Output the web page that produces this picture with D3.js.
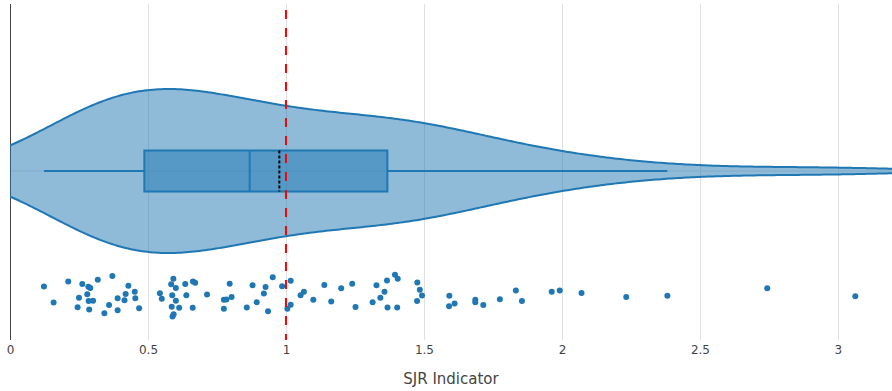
<!DOCTYPE html>
<html>
<head>
<meta charset="utf-8">
<script src="https://cdn.jsdelivr.net/npm/d3@7"></script>
<style>
  html, body { margin: 0; padding: 0; background: #fff; }
  svg { display: block; }
  text { font-family: "DejaVu Sans", Verdana, sans-serif; fill: #444; }
</style>
</head>
<body>
<svg id="chart" width="892" height="391"></svg>
<script>
// SJR indicator of each journal
const sjrValues = [
  0.123, 0.158, 0.211, 0.262, 0.284, 0.291, 0.280, 0.250, 0.285, 0.301,
  0.245, 0.287, 0.318, 0.371, 0.342, 0.359, 0.390, 0.390, 0.415, 0.419,
  0.429, 0.452, 0.454, 0.468, 0.543, 0.550, 0.592, 0.584, 0.601, 0.588,
  0.601, 0.586, 0.613, 0.589, 0.593, 0.635, 0.663, 0.671, 0.639, 0.662,
  0.714, 0.775, 0.784, 0.796, 0.803, 0.775, 0.858, 0.879, 0.894, 0.926,
  0.920, 0.935, 0.952, 0.986, 1.017, 1.005, 1.017, 1.053, 1.065, 1.099,
  1.139, 1.164, 1.200, 1.240, 1.252, 1.314, 1.328, 1.342, 1.357, 1.366,
  1.368, 1.395, 1.405, 1.403, 1.476, 1.485, 1.493, 1.475, 1.592, 1.591,
  1.611, 1.686, 1.686, 1.715, 1.775, 1.833, 1.855, 1.963, 1.992, 2.071,
  2.233, 2.382, 2.744, 3.063
];
// jitter of each point inside its strip, from -1 to 1
const pointJitter = [
   0.44, -0.33,  0.67,  0.56,  0.42,  0.37,  0.07, -0.10, -0.25, -0.24,
  -0.55, -0.66,  0.76,  0.93, -0.84, -0.45, -0.12, -0.70, -0.22,  0.08,
   0.47,  0.19, -0.12, -0.60,  0.11, -0.15,  0.80,  0.54,  0.36,  0.02,
  -0.24, -0.53, -0.58, -0.99, -0.89,  0.55,  0.67,  0.62,  0.02, -0.58,
   0.05, -0.19, -0.18,  0.57, -0.07, -0.63, -0.57,  0.50, -0.31,  0.41,
   0.10, -0.74,  0.88,  0.45,  0.71, -0.62, -0.43,  0.02,  0.19, -0.19,
   0.51, -0.28,  0.35,  0.57, -0.54, -0.31,  0.49, -0.10,  0.18,  0.72,
  -0.57,  0.99,  0.81, -0.57,  0.63,  0.28,  0.01, -0.25,  0.00, -0.50,
  -0.38, -0.19, -0.31, -0.44, -0.17,  0.24, -0.26,  0.18,  0.24,  0.13,
  -0.06,  0.00,  0.35, -0.03
];
const tickValues = [0, 0.5, 1, 1.5, 2, 2.5, 3];
const tickLabels = ["0", "0.5", "1", "1.5", "2", "2.5", "3"];
const xDomain = [0, 3.196];
const referenceValue = [1];
const axisTitle = "SJR Indicator";

// layout
const plot = { left: 10, right: 892, top: 4, bottom: 340 };
const blue = "#1f77b4";
const pointPos = -1.52;    // strip position, in violin half-widths
const jitterAmp = 0.256;   // jitter amplitude, in violin half-widths
const boxHalf = 0.25;      // box half-height, in violin half-widths

const svg = d3.select("#chart");
const x = d3.scaleLinear().domain(xDomain).range([plot.left, plot.right]);
// vertical scale in units of the violin half-width, 0 at the category
const y = d3.scaleLinear().domain([-2.061, 2.037]).range([plot.bottom, plot.top]);

svg.append("defs").append("clipPath").attr("id", "plotclip")
  .append("rect")
  .attr("x", plot.left).attr("y", plot.top)
  .attr("width", plot.right - plot.left).attr("height", plot.bottom - plot.top);

// grid
const grid = svg.append("g");
grid.selectAll("line.gx").data(tickValues.filter(t => t !== 0)).join("line")
  .attr("class", "gx")
  .attr("x1", d => Math.round(x(d)) + 0.5).attr("x2", d => Math.round(x(d)) + 0.5)
  .attr("y1", plot.top).attr("y2", plot.bottom)
  .attr("stroke", "#e0e0e0").attr("stroke-width", 1);
grid.append("line")
  .attr("x1", plot.left).attr("x2", plot.right)
  .attr("y1", y(0)).attr("y2", y(0))
  .attr("stroke", "#e0e0e0").attr("stroke-width", 1);
// zero line
grid.append("line")
  .attr("x1", Math.round(x(0)) + 0.5).attr("x2", Math.round(x(0)) + 0.5)
  .attr("y1", plot.top).attr("y2", plot.bottom)
  .attr("stroke", "#444").attr("stroke-width", 1);

// statistics
const sorted = sjrValues.slice().sort(d3.ascending);
const n = sorted.length;
const q1 = d3.quantileSorted(sorted, 0.25);
const med = d3.quantileSorted(sorted, 0.5);
const q3 = d3.quantileSorted(sorted, 0.75);
const mean = d3.mean(sorted);
const iqr = q3 - q1;
const lowFence = d3.min(sorted.filter(v => v >= q1 - 1.5 * iqr));
const highFence = d3.max(sorted.filter(v => v <= q3 + 1.5 * iqr));

// kernel density (gaussian, Silverman bandwidth)
const sd = d3.deviation(sorted);
const bw = 1.059 * Math.min(sd, iqr / 1.349) * Math.pow(n, -0.2);
const span = [sorted[0] - 2 * bw, sorted[n - 1] + 2 * bw];
const kern = u => Math.exp(-0.5 * u * u) / Math.sqrt(2 * Math.PI);
const density = d3.range(0, 401).map(i => {
  const v = span[0] + (span[1] - span[0]) * i / 400;
  return [v, d3.sum(sorted, s => kern((v - s) / bw)) / (n * bw)];
});
const w = d3.scaleLinear().domain([0, d3.max(density, d => d[1])]).range([0, 1]);

const traces = svg.append("g").attr("clip-path", "url(#plotclip)");
const area = d3.area()
  .x(d => x(d[0]))
  .y0(d => y(-w(d[1])))
  .y1(d => y(w(d[1])))
  .curve(d3.curveLinear);
traces.append("path").datum(density)
  .attr("d", area)
  .attr("fill", blue).attr("fill-opacity", 0.5)
  .attr("stroke", blue).attr("stroke-width", 2).attr("stroke-linejoin", "round");

// whiskers
traces.selectAll("line.whisker").data([[lowFence, q1], [q3, highFence]]).join("line")
  .attr("class", "whisker")
  .attr("x1", d => x(d[0])).attr("x2", d => x(d[1]))
  .attr("y1", y(0)).attr("y2", y(0))
  .attr("stroke", blue).attr("stroke-width", 2);
// box
traces.append("rect")
  .attr("x", x(q1)).attr("width", x(q3) - x(q1))
  .attr("y", y(boxHalf)).attr("height", y(-boxHalf) - y(boxHalf))
  .attr("fill", blue).attr("fill-opacity", 0.5)
  .attr("stroke", blue).attr("stroke-width", 2);
traces.append("line")
  .attr("x1", x(med)).attr("x2", x(med))
  .attr("y1", y(boxHalf)).attr("y2", y(-boxHalf))
  .attr("stroke", blue).attr("stroke-width", 2);
// mean
traces.append("line")
  .attr("x1", x(mean)).attr("x2", x(mean))
  .attr("y1", y(boxHalf)).attr("y2", y(-boxHalf))
  .attr("stroke", "#000").attr("stroke-width", 2)
  .attr("stroke-dasharray", "3,2");

// points
traces.selectAll("circle.pt").data(sjrValues.map((v, i) => [v, pointJitter[i]])).join("circle")
  .attr("class", "pt")
  .attr("cx", d => x(d[0]))
  .attr("cy", d => y(pointPos + d[1] * jitterAmp))
  .attr("r", 3)
  .attr("fill", blue);

// reference line
traces.selectAll("line.ref").data(referenceValue).join("line")
  .attr("class", "ref")
  .attr("x1", d => x(d)).attr("x2", d => x(d))
  .attr("y1", plot.top).attr("y2", plot.bottom)
  .attr("stroke", "red").attr("stroke-width", 2)
  .attr("stroke-dasharray", "9,9").attr("stroke-dashoffset", 12);

// x axis labels
const axis = d3.axisBottom(x)
  .tickValues(tickValues)
  .tickFormat((d, i) => tickLabels[i])
  .tickSize(0).tickPadding(5);
const ax = svg.append("g").attr("transform", `translate(0,${plot.bottom})`).call(axis);
ax.select(".domain").remove();
ax.selectAll("text").attr("font-size", 12).attr("fill", "#444")
  .style("font-family", '"DejaVu Sans", Verdana, sans-serif');

svg.append("text")
  .attr("x", (plot.left + plot.right) / 2).attr("y", 384)
  .attr("text-anchor", "middle").attr("font-size", 15)
  .text(axisTitle);
</script>
</body>
</html>
